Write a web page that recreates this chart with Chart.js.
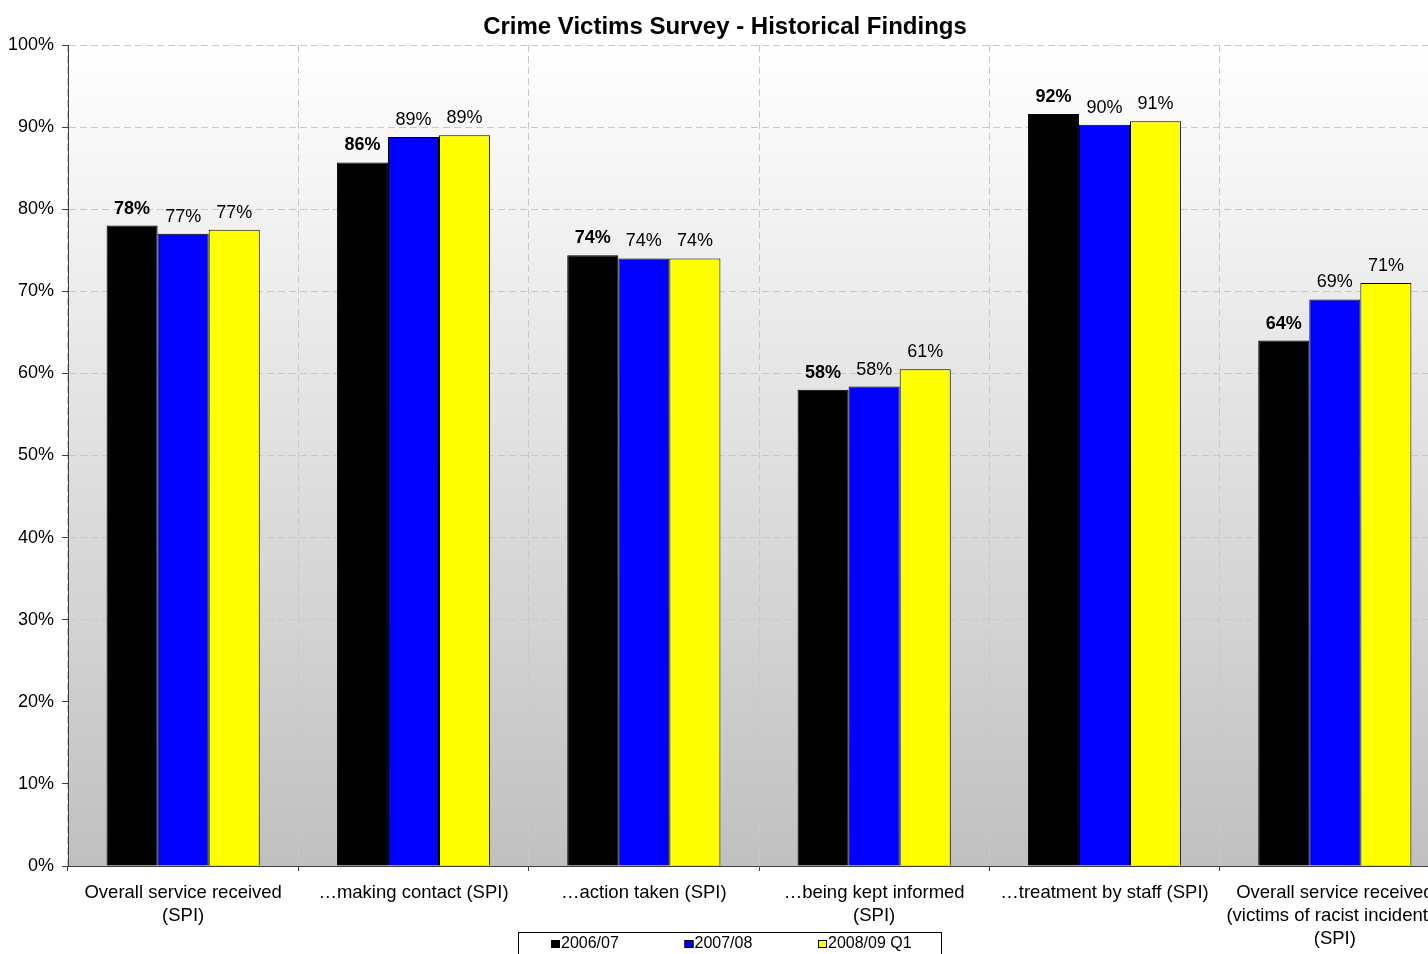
<!DOCTYPE html>
<html>
<head>
<meta charset="utf-8">
<script src="https://cdn.jsdelivr.net/npm/chart.js@4"></script>
<style>
  html, body { margin: 0; padding: 0; background: #ffffff; overflow: hidden; }
  #wrap { position: absolute; left: 0; top: 0; width: 1456px; height: 954px; }
</style>
</head>
<body>
<div id="wrap"><canvas id="c"></canvas></div>
<script>
const chartTitle = 'Crime Victims Survey - Historical Findings';
const categories = [
  ['Overall service received', '(SPI)'],
  '\u2026making contact (SPI)',
  '\u2026action taken (SPI)',
  ['\u2026being kept informed', '(SPI)'],
  '\u2026treatment by staff (SPI)',
  ['Overall service received', '(victims of racist incidents)', '(SPI)']
];
const seriesNames = ['2006/07', '2007/08', '2008/09 Q1'];
const values2006 = [78.0, 85.7, 74.4, 58.0, 91.6, 64.0];
const values2007 = [77.0, 88.8, 74.0, 58.4, 90.3, 69.0];
const values2008 = [77.5, 89.0, 74.0, 60.5, 90.7, 71.0];
const labels2006 = ['78%', '86%', '74%', '58%', '92%', '64%'];
const labels2007 = ['77%', '89%', '74%', '58%', '90%', '69%'];
const labels2008 = ['77%', '89%', '74%', '61%', '91%', '71%'];
const seriesColors = ['#000000', '#0000ff', '#ffff00'];
const yTicks = [0, 10, 20, 30, 40, 50, 60, 70, 80, 90, 100];

const FONT = '"Liberation Sans", Arial, sans-serif';

const bgPlugin = {
  id: 'bgGradient',
  beforeDraw(chart) {
    const {ctx, chartArea: a} = chart;
    const g = ctx.createLinearGradient(0, a.top, 0, a.bottom);
    g.addColorStop(0, '#ffffff');
    g.addColorStop(1, '#c0c0c0');
    ctx.save();
    ctx.fillStyle = g;
    ctx.fillRect(a.left, a.top, a.right - a.left, a.bottom - a.top);
    ctx.restore();
  }
};

const valueLabelPlugin = {
  id: 'valueLabels',
  afterDatasetsDraw(chart) {
    const ctx = chart.ctx;
    ctx.save();
    ctx.fillStyle = '#000000';
    ctx.textAlign = 'center';
    ctx.textBaseline = 'middle';
    chart.data.datasets.forEach((ds, di) => {
      const meta = chart.getDatasetMeta(di);
      ctx.font = (di === 0 ? 'bold ' : '') + '18px ' + FONT;
      meta.data.forEach((bar, i) => {
        ctx.fillText(ds.valueLabels[i], bar.x, bar.y - 17);
      });
    });
    ctx.restore();
  }
};

const boxLegendPlugin = {
  id: 'boxLegend',
  afterDraw(chart) {
    const ctx = chart.ctx;
    const left = 518, right = 941, top = 932;
    ctx.save();
    ctx.fillStyle = '#ffffff';
    ctx.fillRect(left, top, right - left, 40);
    ctx.strokeStyle = '#000000';
    ctx.lineWidth = 1;
    ctx.strokeRect(left + 0.5, top + 0.5, right - left, 40);
    ctx.font = '16px ' + FONT;
    ctx.textBaseline = 'middle';
    ctx.textAlign = 'left';
    chart.data.datasets.forEach((ds, i) => {
      const x = 551 + i * 133.5;
      const y = 944;
      ctx.fillStyle = ds.backgroundColor;
      ctx.fillRect(x, y - 4, 9, 8);
      ctx.strokeStyle = '#000000';
      ctx.strokeRect(x + 0.5, y - 3.5, 8, 7);
      ctx.fillStyle = '#000000';
      ctx.fillText(ds.label, x + 10, y);
    });
    ctx.restore();
  }
};

function mkDs(i, data, lbls) {
  return {
    label: seriesNames[i],
    data: data,
    valueLabels: lbls,
    backgroundColor: seriesColors[i],
    borderColor: '#000000',
    borderWidth: 1,
    borderSkipped: 'bottom',
    barPercentage: 1.0,
    categoryPercentage: 0.665
  };
}

new Chart(document.getElementById('c'), {
  type: 'bar',
  data: {
    labels: categories,
    datasets: [
      mkDs(0, values2006, labels2006),
      mkDs(1, values2007, labels2007),
      mkDs(2, values2008, labels2008)
    ]
  },
  plugins: [bgPlugin, valueLabelPlugin, boxLegendPlugin],
  options: {
    responsive: true,
    maintainAspectRatio: false,
    animation: false,
    devicePixelRatio: 1,
    layout: { padding: { left: 0, right: 6, top: 0, bottom: 0 } },
    plugins: {
      legend: { display: false },
      tooltip: { enabled: false },
      title: {
        display: true,
        text: chartTitle,
        color: '#000000',
        font: { family: FONT, size: 24, weight: 'bold', lineHeight: 1.2 },
        padding: { top: 13, bottom: 3.2 }
      }
    },
    scales: {
      x: {
        grid: {
          display: true,
          offset: true,
          color: '#c8c8c8',
          tickColor: '#404040',
          tickLength: 5,
          tickBorderDash: []
        },
        border: { display: true, color: '#404040', width: 1, dash: [7, 4] },
        ticks: {
          color: '#000000',
          font: { family: FONT, size: 18.5, lineHeight: 1.243 },
          padding: 10,
          autoSkip: false,
          maxRotation: 0,
          minRotation: 0
        },
        afterFit(scale) { scale.height = 88; }
      },
      y: {
        min: 0,
        max: 100,
        afterBuildTicks(scale) { scale.ticks = yTicks.map(v => ({ value: v })); },
        grid: {
          color: '#c8c8c8',
          tickColor: '#404040',
          tickLength: 6,
          tickBorderDash: []
        },
        border: { display: true, color: '#404040', width: 1, dash: [7, 4] },
        ticks: {
          color: '#000000',
          font: { family: FONT, size: 18 },
          padding: 8,
          callback: v => v + '%'
        },
        afterFit(scale) { scale.width = 68; }
      }
    }
  }
});
</script>
</body>
</html>
